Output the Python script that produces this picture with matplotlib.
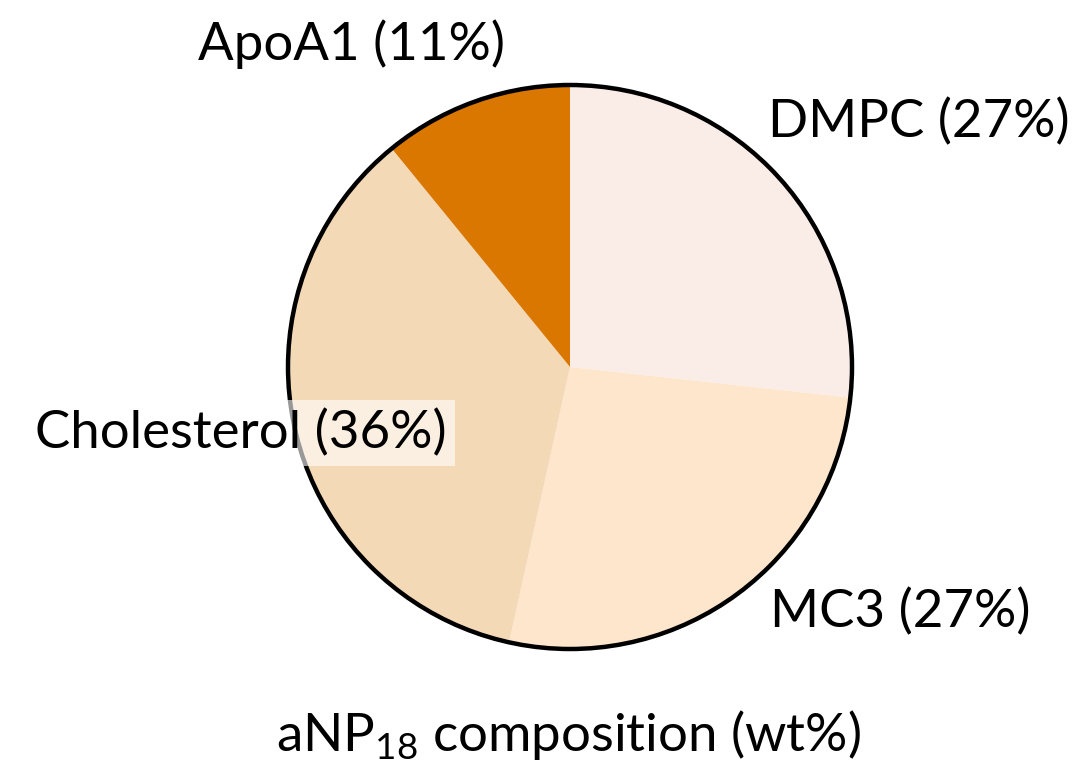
import matplotlib
matplotlib.use("Agg")
import matplotlib.pyplot as plt
from matplotlib.patches import Circle

plt.rcParams['font.family'] = ['Lato', 'DejaVu Sans']
plt.rcParams['mathtext.fontset'] = 'custom'
plt.rcParams['mathtext.rm'] = 'Lato'

components = ["DMPC", "MC3", "Cholesterol", "ApoA1"]
wt_percent = [27, 27, 36, 11]
colors = ["#FAEDE8", "#FDE6CC", "#F3D9B6", "#D97700"]

fig = plt.figure(figsize=(10.77, 7.67), dpi=100)
ax = fig.add_axes([0, 0, 1, 1])

cx, cy, r = 570, 400, 282
ax.pie(wt_percent, colors=colors, startangle=90, counterclock=False,
       center=(cx, cy), radius=r, frame=True,
       wedgeprops=dict(linewidth=0))
ax.set_xlim(0, 1077)
ax.set_ylim(0, 767)
ax.set_aspect('equal')
ax.axis('off')
ax.add_patch(Circle((cx, cy), r, fill=False, edgecolor='black', linewidth=3.2, zorder=5))

fs = 38
labels = [f"{c} ({p}%)" for c, p in zip(components, wt_percent)]
ax.text(768, 767 - 122, labels[0], fontsize=fs, ha='left', va='center')
ax.text(770, 767 - 612, labels[1], fontsize=fs, ha='left', va='center')
ax.text(447, 767 - 433, labels[2], fontsize=fs, ha='right', va='center', zorder=6,
        bbox=dict(facecolor='white', edgecolor='none', alpha=0.6, pad=6))
ax.text(505, 767 - 44, labels[3], fontsize=fs, ha='right', va='center')

ax.text(568, 767 - 735, r"aNP$_{18}$ composition (wt%)", fontsize=fs,
        ha='center', va='center')

fig.savefig("out.png", dpi=100)
